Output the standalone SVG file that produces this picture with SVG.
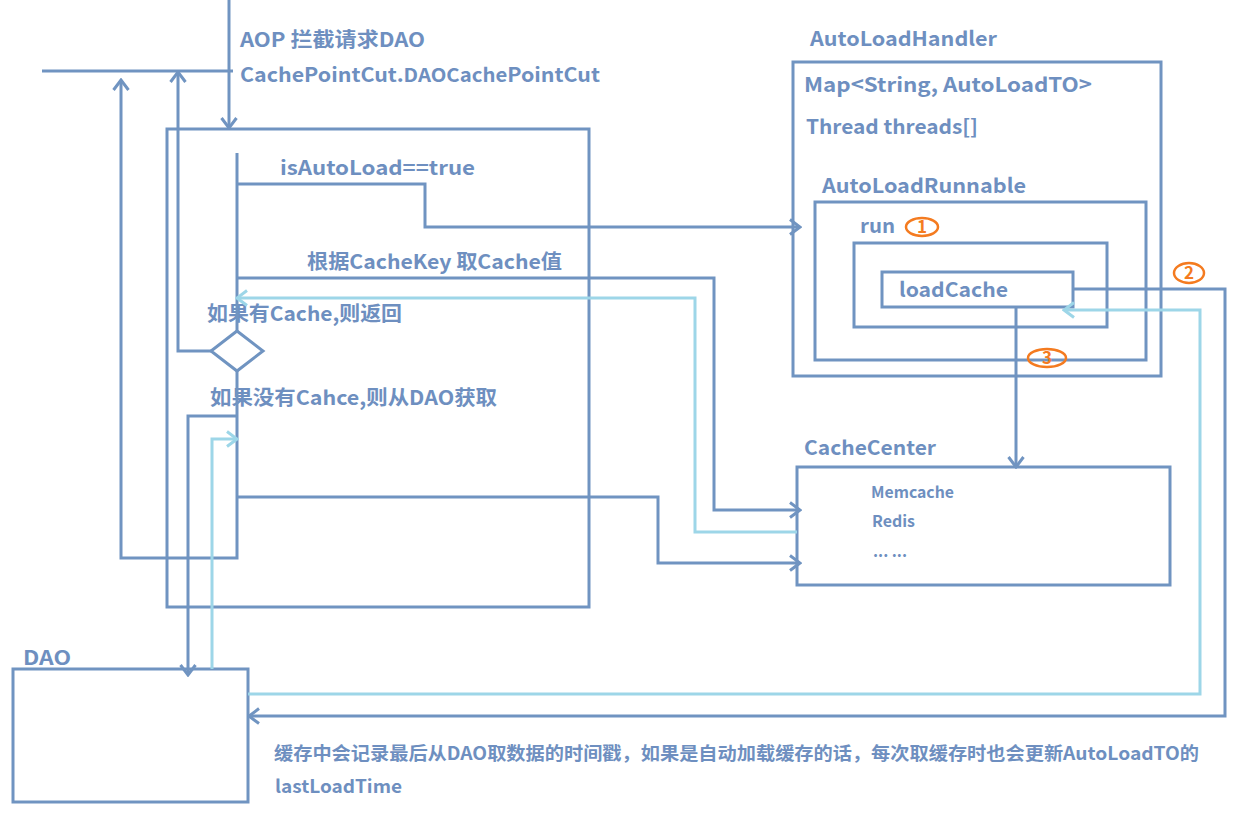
<svg xmlns="http://www.w3.org/2000/svg" width="1249" height="817" viewBox="0 0 1249 817">
<style>
.b{fill:none;stroke:#7094c1;stroke-width:3}
.c{fill:none;stroke:#9dd6e8;stroke-width:3}
.o{fill:none;stroke:#f47b20;stroke-width:2.5}
text{font-family:"Noto Sans CJK SC","Liberation Sans",sans-serif;font-weight:bold;fill:#6e8fc0}
.s16{font-size:16px}
.s20{font-size:20px}
.n{fill:#f47b20;font-size:17px;text-anchor:middle}
</style>
<defs>
<marker id="ab" viewBox="0 0 14 18" refX="12" refY="9" markerWidth="14" markerHeight="18" orient="auto" markerUnits="userSpaceOnUse">
<path d="M2,1.5 L12,9 L2,16.5" fill="none" stroke="#7094c1" stroke-width="3"/>
</marker>
<marker id="ac" viewBox="0 0 14 18" refX="12" refY="9" markerWidth="14" markerHeight="18" orient="auto" markerUnits="userSpaceOnUse">
<path d="M2,1.5 L12,9 L2,16.5" fill="none" stroke="#9dd6e8" stroke-width="3"/>
</marker>
</defs>
<rect width="1249" height="817" fill="#ffffff"/>

<g id="aop">
<rect class="b" x="167" y="129" width="422" height="478"/>
<text class="s20" x="240" y="47" textLength="185" lengthAdjust="spacingAndGlyphs">AOP 拦截请求DAO</text>
<text class="s20" x="240" y="82" textLength="360" lengthAdjust="spacingAndGlyphs">CachePointCut.<tspan font-size="19">DAOCache</tspan>PointCut</text>
<text class="s20" x="280" y="175" textLength="195" lengthAdjust="spacingAndGlyphs">isAutoLoad==true</text>
<text class="s20" x="307" y="269" textLength="255" lengthAdjust="spacingAndGlyphs">根据CacheKey 取Cache值</text>
<text class="s20" x="207" y="321" textLength="195" lengthAdjust="spacingAndGlyphs">如果有Cache,则返回</text>
<text class="s20" x="210" y="405" textLength="287" lengthAdjust="spacingAndGlyphs">如果没有Cahce,则从DAO获取</text>
</g>

<g id="decision">
<polygon class="b" points="237,331 263,351 237,371 211,351"/>
</g>

<g id="autoLoadHandler">
<rect class="b" x="793" y="62" width="368" height="314"/>
<text class="s20" x="810" y="46" textLength="187" lengthAdjust="spacingAndGlyphs">AutoLoadHandler</text>
<text class="s20" x="804" y="92" textLength="288" lengthAdjust="spacingAndGlyphs">Map&lt;String, AutoLoadTO&gt;</text>
<text class="s20" x="806" y="134" textLength="172" lengthAdjust="spacingAndGlyphs">Thread threads[]</text>
</g>

<g id="autoLoadRunnable">
<rect class="b" x="815" y="202" width="331" height="158"/>
<text class="s20" x="822" y="193" textLength="204" lengthAdjust="spacingAndGlyphs">AutoLoadRunnable</text>
</g>

<g id="run">
<rect class="b" x="854" y="243" width="253" height="84"/>
<text class="s20" x="860" y="233" textLength="35" lengthAdjust="spacingAndGlyphs">run</text>
</g>

<g id="loadCache">
<rect class="b" x="882" y="272" width="191" height="35"/>
<text class="s20" x="899" y="297" textLength="109" lengthAdjust="spacingAndGlyphs">loadCache</text>
</g>

<g id="cacheCenter">
<rect class="b" x="797" y="467" width="373" height="118"/>
<text class="s20" x="804" y="455" textLength="132" lengthAdjust="spacingAndGlyphs">CacheCenter</text>
<text class="s16" x="871" y="498" textLength="83" lengthAdjust="spacingAndGlyphs">Memcache</text>
<text class="s16" x="872" y="527" textLength="43" lengthAdjust="spacingAndGlyphs">Redis</text>
<text class="s16" x="873" y="557" textLength="34" lengthAdjust="spacingAndGlyphs">... ...</text>
</g>

<g id="dao">
<rect class="b" x="13" y="669" width="235" height="133"/>
<text class="s20" x="23" y="665" textLength="48" lengthAdjust="spacingAndGlyphs">DAO</text>
</g>

<g id="note">
<text x="274" y="760" font-size="18" textLength="925" lengthAdjust="spacingAndGlyphs">缓存中会记录最后从DAO取数据的时间戳，如果是自动加载缓存的话，每次取缓存时也会更新AutoLoadTO的</text>
<text x="275" y="793" font-size="18" textLength="127" lengthAdjust="spacingAndGlyphs">lastLoadTime</text>
</g>

<g id="steps">
<ellipse class="o" cx="922" cy="227" rx="16" ry="9"/>
<text class="n" x="922" y="233">1</text>
<ellipse class="o" cx="1189" cy="273" rx="15" ry="10"/>
<text class="n" x="1189" y="279">2</text>
<ellipse class="o" cx="1047" cy="358" rx="19" ry="9"/>
<text class="n" x="1047" y="364">3</text>
</g>

<g id="connectors">
<path class="b" d="M42,71 H233"/>
<path class="b" d="M229,0 V128" marker-end="url(#ab)"/>
<path class="b" d="M237,153 V331"/>
<path class="b" d="M237,371 V558 H121 V80" marker-end="url(#ab)"/>
<path class="b" d="M211,351 H178 V72" marker-end="url(#ab)"/>
<path class="b" d="M237,184 H425 V227 H800" marker-end="url(#ab)"/>
<path class="b" d="M237,278 H714 V510 H800" marker-end="url(#ab)"/>
<path class="b" d="M237,497 H658 V563 H800" marker-end="url(#ab)"/>
<path class="b" d="M237,416 H188 V675" marker-end="url(#ab)"/>
<path class="c" d="M797,532 H695 V298 H237" marker-end="url(#ac)"/>
<path class="c" d="M212,669 V439 H237" marker-end="url(#ac)"/>
<path class="b" d="M1016,307 V467" marker-end="url(#ab)"/>
<path class="b" d="M1073,289 H1225 V716 H249" marker-end="url(#ab)"/>
<path class="c" d="M248,694 H1200 V310 H1064" marker-end="url(#ac)"/>
</g>
</svg>
